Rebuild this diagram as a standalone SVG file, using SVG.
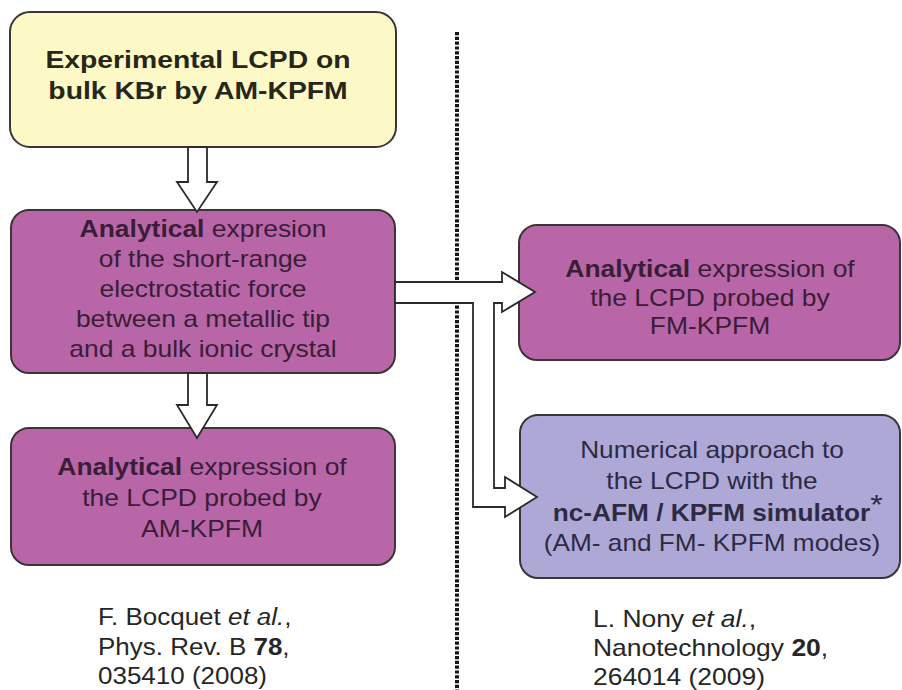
<svg xmlns="http://www.w3.org/2000/svg" width="902" height="690" viewBox="0 0 902 690">
  <style>
    .box { stroke: #3b3538; stroke-width: 2; }
    .yellow { fill: #FCF9C7; }
    .magenta { fill: #B866A7; }
    .lavender { fill: #AEA8D6; }
    .arrow { fill: #ffffff; stroke: #2a2a2a; stroke-width: 1.8; stroke-linejoin: miter; }
    text { font-family: "Liberation Sans", Arial, sans-serif; font-size: 23px; }
    .c { text-anchor: middle; }
    .ty { fill: #262619; font-weight: bold; font-size: 24px; }
    .tm { fill: #3a1d37; }
    .tl { fill: #2d2a44; }
    .ref { fill: #262626; }
    .b { font-weight: bold; }
    .i { font-style: italic; }
  </style>

  <!-- separator between the two studies -->
  <line x1="457" y1="32" x2="457" y2="690" stroke="#151515" stroke-width="4" stroke-dasharray="3.2 1.6"/>

  <g id="experimental">
    <rect class="box yellow" x="10" y="12" width="386" height="135" rx="20"/>
    <g transform="translate(198 0) scale(1.18 1)">
      <text class="c ty" x="0" y="68">Experimental LCPD on</text>
      <text class="c ty" x="0" y="99">bulk KBr by AM-KPFM</text>
    </g>
  </g>

  <g id="force">
    <rect class="box magenta" x="11" y="210" width="384" height="163" rx="18"/>
    <g transform="translate(203 0) scale(1.15 1)">
      <text class="c tm" x="0" y="237"><tspan class="b">Analytical</tspan> expresion</text>
      <text class="c tm" x="0" y="267">of the short-range</text>
      <text class="c tm" x="0" y="297">electrostatic force</text>
      <text class="c tm" x="0" y="327">between a metallic tip</text>
      <text class="c tm" x="0" y="357">and a bulk ionic crystal</text>
    </g>
  </g>

  <g id="am-kpfm">
    <rect class="box magenta" x="11" y="428" width="384" height="137" rx="18"/>
    <g transform="translate(202 0) scale(1.15 1)">
      <text class="c tm" x="0" y="475"><tspan class="b">Analytical</tspan> expression of</text>
      <text class="c tm" x="0" y="506">the LCPD probed by</text>
      <text class="c tm" x="0" y="537">AM-KPFM</text>
    </g>
  </g>

  <g id="fm-kpfm">
    <rect class="box magenta" x="519" y="225" width="381" height="135" rx="18"/>
    <g transform="translate(710 0) scale(1.15 1)">
      <text class="c tm" x="0" y="277"><tspan class="b">Analytical</tspan> expression of</text>
      <text class="c tm" x="0" y="306">the LCPD probed by</text>
      <text class="c tm" x="0" y="334">FM-KPFM</text>
    </g>
  </g>

  <g id="simulator">
    <rect class="box lavender" x="520" y="415" width="380" height="163" rx="18"/>
    <g transform="translate(712 0) scale(1.14 1)">
      <text class="c tl" x="0" y="458">Numerical approach to</text>
      <text class="c tl" x="0" y="489">the LCPD with the</text>
      <text class="c tl" x="5" y="521"><tspan class="b">nc-AFM / KPFM simulator</tspan><tspan dy="-7" font-size="28">*</tspan></text>
      <text class="c tl" x="0" y="551">(AM- and FM- KPFM modes)</text>
    </g>
  </g>

  <g id="ref-bocquet">
    <g transform="translate(98 0) scale(1.13 1)">
      <text class="ref" x="0" y="625">F. Bocquet <tspan class="i">et al.</tspan>,</text>
      <text class="ref" x="0" y="655">Phys. Rev. B <tspan class="b">78</tspan>,</text>
      <text class="ref" x="0" y="684">035410 (2008)</text>
    </g>
  </g>

  <g id="ref-nony">
    <g transform="translate(593 0) scale(1.15 1)">
      <text class="ref" x="0" y="627">L. Nony <tspan class="i">et al.</tspan>,</text>
      <text class="ref" x="0" y="656">Nanotechnology <tspan class="b">20</tspan>,</text>
      <text class="ref" x="0" y="685">264014 (2009)</text>
    </g>
  </g>

  <g id="connectors">
    <!-- experiment -> analytical force -->
    <polygon class="arrow" points="188,147 207,147 207,182 217,182 197,212 177,182 188,182"/>
    <!-- analytical force -> AM-KPFM -->
    <polygon class="arrow" points="188,373 207,373 207,405 217,405 197,438 177,405 188,405"/>
    <!-- analytical force -> FM-KPFM and simulator (branched) -->
    <polygon class="arrow" points="395,282 502,282 502,272 535,292 502,312 502,303 494,303 494,488 505,488 505,477 537,497 505,517 505,507 473,507 473,303 395,303"/>
  </g>
</svg>
